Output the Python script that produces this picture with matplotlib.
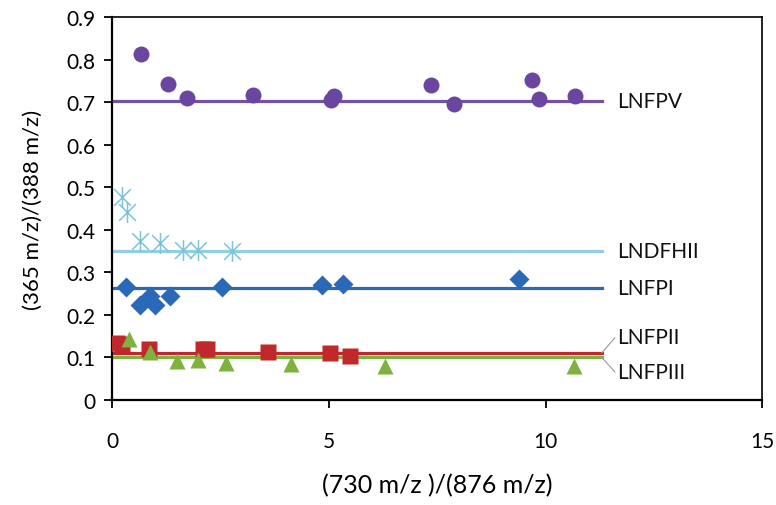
import numpy as np
import matplotlib
matplotlib.use('Agg')
import matplotlib.pyplot as plt
from matplotlib.path import Path

plt.rcParams['font.family'] = ['Lato', 'DejaVu Sans']

# LNFPV (circles)
lnfpv_x = [0.68, 1.29, 1.73, 3.26, 5.05, 5.12, 7.36, 7.89, 9.69, 9.86, 10.68]
lnfpv_y = [0.813, 0.742, 0.710, 0.716, 0.706, 0.714, 0.739, 0.695, 0.753, 0.707, 0.715]
# LNDFHII (asterisks)
lndfhii_x = [0.22, 0.34, 0.64, 1.10, 1.63, 1.98, 2.76]
lndfhii_y = [0.476, 0.441, 0.374, 0.370, 0.352, 0.352, 0.349]
# LNFPI (diamonds)
lnfpi_x = [0.32, 0.64, 0.87, 1.00, 1.33, 2.53, 4.85, 5.34, 9.38]
lnfpi_y = [0.265, 0.223, 0.244, 0.223, 0.244, 0.265, 0.270, 0.273, 0.284]
# LNFPII (squares)
lnfpii_x = [0.12, 0.22, 0.85, 2.10, 2.20, 3.60, 5.03, 5.49]
lnfpii_y = [0.134, 0.132, 0.121, 0.120, 0.121, 0.112, 0.110, 0.104]
# LNFPIII (triangles)
lnfpiii_x = [0.40, 0.87, 1.50, 1.98, 2.63, 4.14, 6.29, 10.66]
lnfpiii_y = [0.143, 0.112, 0.092, 0.095, 0.088, 0.085, 0.081, 0.079]

# mean lines
names = ['LNFPV', 'LNDFHII', 'LNFPI', 'LNFPII', 'LNFPIII']
levels = [0.703, 0.351, 0.263, 0.111, 0.100]
line_colors = ['#7352a3', '#93cfe0', '#2c68b4', '#c3262c', '#7cb342']
label_y = [0.703, 0.351, 0.263, 0.148, 0.065]

# excel style asterisk: X plus vertical bar
star = Path([(-1, -1), (1, 1), (-1, 1), (1, -1), (0, -1.25), (0, 1.25)],
            [Path.MOVETO, Path.LINETO, Path.MOVETO, Path.LINETO, Path.MOVETO, Path.LINETO])

fig = plt.figure(figsize=(7.76, 5.06), dpi=100)
ax = fig.add_axes([0.1443, 0.2075, 0.838, 0.757])

line_end = 11.3
for lev, c in zip(levels, line_colors):
    ax.plot([0, line_end], [lev, lev], color=c, lw=2.3, zorder=2)

ax.plot(lnfpv_x, lnfpv_y, 'o', color='#6a46a0', ms=11.5, mec='none', zorder=3)
ax.plot(lndfhii_x, lndfhii_y, ls='none', marker=star, color='#7cc3d6', ms=15, mew=1.1, zorder=3)
ax.plot(lnfpi_x, lnfpi_y, 'D', color='#2c68b8', ms=10.5, mec='none', zorder=3)
ax.plot(lnfpii_x, lnfpii_y, 's', color='#c0282c', ms=11, mec='none', zorder=3)
ax.plot(lnfpiii_x, lnfpiii_y, '^', color='#7fb13e', ms=12, mec='none', zorder=4)

for n, ly in zip(names, label_y):
    ax.text(11.65, ly, n, fontsize=15, va='center', ha='left', color='#111111')

# leader lines for the two close labels
ax.plot([line_end, 11.6], [levels[3], 0.146], color='#999999', lw=0.8, clip_on=False)
ax.plot([line_end, 11.6], [levels[4], 0.066], color='#999999', lw=0.8, clip_on=False)

ax.set_xlim(0, 15)
ax.set_ylim(0, 0.9)
ax.set_xticks([0, 5, 10, 15])
ax.set_yticks(np.arange(0, 0.91, 0.1))
ax.set_yticklabels(['0', '0.1', '0.2', '0.3', '0.4', '0.5', '0.6', '0.7', '0.8', '0.9'])
ax.tick_params(axis='both', labelsize=15, length=6, width=1.3, direction='out', colors='black')
ax.tick_params(axis='x', pad=16)
ax.tick_params(axis='y', pad=6)
for s in ['left', 'bottom']:
    ax.spines[s].set_linewidth(1.6)
for s in ['top', 'right']:
    ax.spines[s].set_linewidth(1.2)

ax.set_xlabel('(730 m/z )/(876 m/z)', fontsize=18, labelpad=16)
ax.set_ylabel('(365 m/z)/(388 m/z)', fontsize=16, labelpad=17)

fig.savefig('out.png', dpi=100)
